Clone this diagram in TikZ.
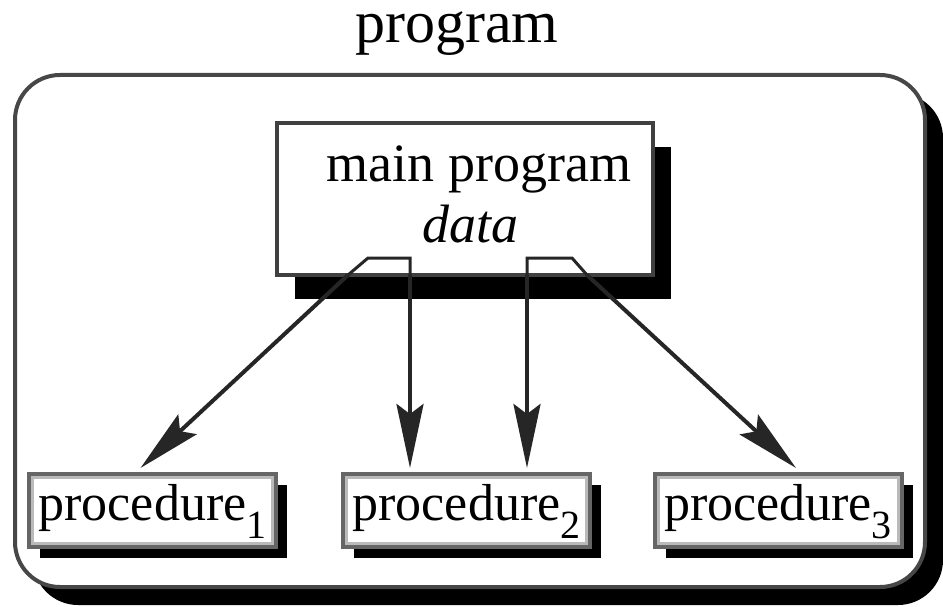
\documentclass[tikz,border=0pt]{standalone}
\usepackage{fontspec}
\setmainfont{Liberation Serif}
\usetikzlibrary{arrows.meta,shadows}

\begin{document}
\begin{tikzpicture}[x=1pt,y=-1pt,
  frame/.style={draw=black!72, line width=4pt, fill=white, rounded corners=45pt,
    minimum width=910pt, minimum height=512pt, inner sep=0pt,
    drop shadow={shadow xshift=18pt, shadow yshift=-18pt, fill=black, opacity=1}},
  mainbox/.style={draw=black!75, line width=4pt, fill=white,
    minimum width=376pt, minimum height=152pt, inner sep=0pt,
    drop shadow={shadow xshift=18pt, shadow yshift=-24pt, fill=black, opacity=1}},
  proc/.style={draw=black!60, line width=4pt, fill=white,
    minimum width=247pt, text height=46pt, text depth=27pt, inner sep=0pt,
    font=\fontsize{52}{52}\selectfont,
    path picture={\draw[black!27, line width=10pt]
      (path picture bounding box.south west) rectangle (path picture bounding box.north east);},
    drop shadow={shadow xshift=11pt, shadow yshift=-11pt, fill=black, opacity=1}},
  tab/.style={draw=black!85, line width=3pt},
  arr/.style={draw=black!85, line width=4pt,
    -{Stealth[length=64pt, width=27pt, inset=10pt]}}
]
\useasboundingbox (0,0) rectangle (943,607);

% outer program frame and its title
\node[frame] (prog) at (470,331) {};
\node[anchor=base, inner sep=0pt, text height=30pt, text depth=14pt,
  font=\fontsize{60}{60}\selectfont] (title) at (457,43) {program};

% main program box
\node[mainbox] (main) at (465,199) {};
\node[anchor=base, font=\fontsize{54}{54}\selectfont] (mtext) at (479,182) {main program};
\node[anchor=base, font=\fontsize{54}{54}\selectfont\itshape] (dtext) at (470,242) {data};

% procedures
\node[proc, anchor=base] (p1) at (152.5,520)
  {procedure\raisebox{-18pt}{\fontsize{40}{40}\selectfont 1}};
\node[proc, anchor=base] (p2) at (466.5,520)
  {procedure\raisebox{-18pt}{\fontsize{40}{40}\selectfont 2}};
\node[proc, anchor=base] (p3) at (778,520)
  {procedure\raisebox{-18pt}{\fontsize{40}{40}\selectfont 3}};

% tabs on the lower edge of the main box
\coordinate (la) at (348,275);
\coordinate (lb) at (368,258);
\coordinate (lc) at (410,258);
\coordinate (ld) at (410,275);
\coordinate (ra) at (527,275);
\coordinate (rb) at (527,258);
\coordinate (rc) at (572,258);
\coordinate (rd) at (587,275);
\draw[tab] (la) -- (lb) -- (lc) -- (ld);
\draw[tab] (ra) -- (rb) -- (rc) -- (rd);

% calls
\draw[arr] (la) -- ([xshift=-12pt,yshift=4pt]p1.north);
\draw[arr] (ld) -- ([xshift=-56.5pt,yshift=4pt]p2.north);
\draw[arr] (ra) -- ([xshift=60.5pt,yshift=4pt]p2.north);
\draw[arr] (rd) -- ([xshift=18pt,yshift=4pt]p3.north);
\end{tikzpicture}
\end{document}
